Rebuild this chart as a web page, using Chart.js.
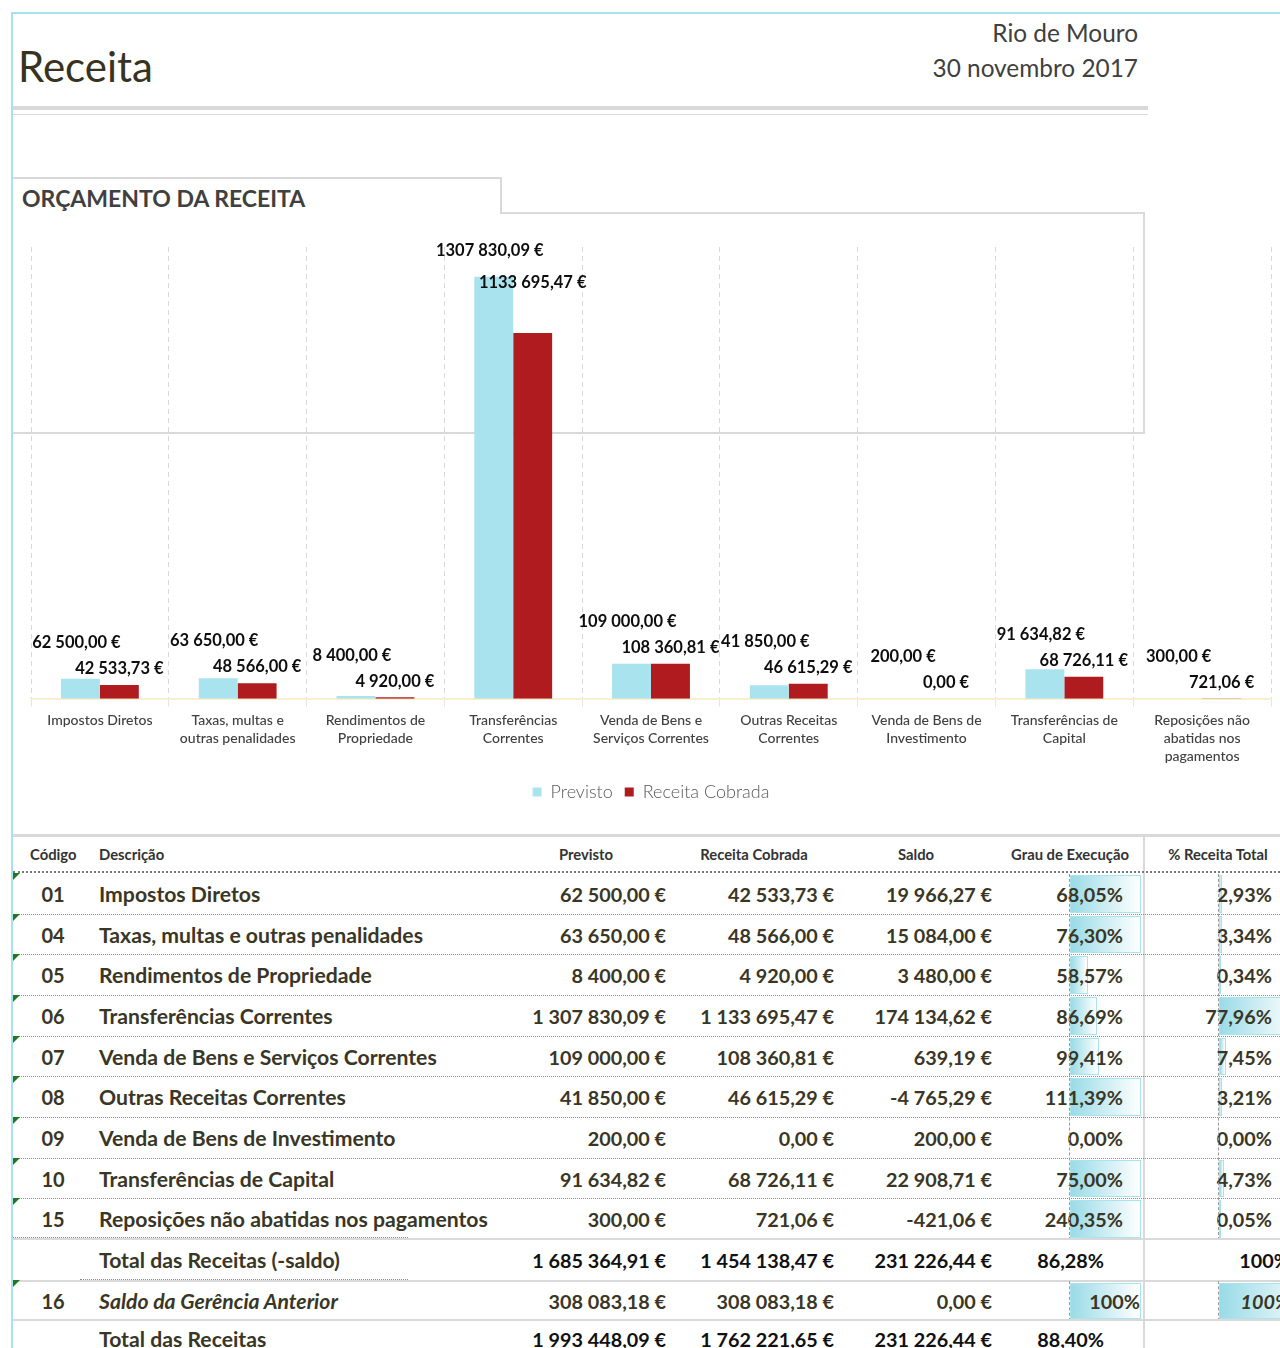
<!DOCTYPE html>
<html>
<head>
<meta charset="utf-8">
<script src="https://cdn.jsdelivr.net/npm/chart.js@4.4.1/dist/chart.umd.min.js"></script>
<style>
  html,body{margin:0;padding:0;}
  body{width:1280px;height:1348px;overflow:hidden;background:#fff;position:relative;font-family:Lato,"Open Sans",sans-serif;}
  .a{position:absolute;}
  .ln{position:absolute;background:#d9d9d9;}
  .cell{position:absolute;white-space:nowrap;font-weight:700;font-size:21.2px;color:#3a3625;line-height:40px;}
  .num{font-size:19.8px;}
  .hdr{position:absolute;white-space:nowrap;font-weight:700;font-size:14.8px;color:#333;}
  .tri{position:absolute;width:0;height:0;border-top:7px solid #1f7a1f;border-right:7px solid transparent;}
  .dbar{position:absolute;background:linear-gradient(to right,#9adbe7,#ffffff);border:1.5px solid #a9e3ed;box-sizing:border-box;}
  .dots{position:absolute;border-top:1px dotted #8c8c8c;height:0;}
  .vdots{position:absolute;border-left:1px dashed #9a9a9a;width:0;}
</style>
</head>
<body>
<div id="page"></div>
<div class="a" style="left:11px;top:230px;width:1269px;height:581px;">
  <canvas id="chart" width="1269" height="581"></canvas>
</div>
<script>
// ---------- DATA ----------
const categories = [
  ["Impostos Diretos"],
  ["Taxas, multas e", "outras penalidades"],
  ["Rendimentos de", "Propriedade"],
  ["Transferências", "Correntes"],
  ["Venda de Bens e", "Serviços Correntes"],
  ["Outras Receitas", "Correntes"],
  ["Venda de Bens de", "Investimento"],
  ["Transferências de", "Capital"],
  ["Reposições não", "abatidas nos", "pagamentos"]
];
const seriesNames = ["Previsto", "Receita Cobrada"];
const previsto = [62500.00, 63650.00, 8400.00, 1307830.09, 109000.00, 41850.00, 200.00, 91634.82, 300.00];
const receitaCobrada = [42533.73, 48566.00, 4920.00, 1133695.47, 108360.81, 46615.29, 0.00, 68726.11, 721.06];

const codigos = ["01", "04", "05", "06", "07", "08", "09", "10", "15"];
const descricoes = ["Impostos Diretos", "Taxas, multas e outras penalidades", "Rendimentos de Propriedade",
  "Transferências Correntes", "Venda de Bens e Serviços Correntes", "Outras Receitas Correntes",
  "Venda de Bens de Investimento", "Transferências de Capital", "Reposições não abatidas nos pagamentos"];
const saldo = [19966.27, 15084.00, 3480.00, 174134.62, 639.19, -4765.29, 200.00, 22908.71, -421.06];
const grauExecucao = [68.05, 76.30, 58.57, 86.69, 99.41, 111.39, 0.00, 75.00, 240.35];
const pctReceitaTotal = [2.93, 3.34, 0.34, 77.96, 7.45, 3.21, 0.00, 4.73, 0.05];
const grauDataBarFill = [1, 1, 0.25, 0.38, 0.41, 1, 0, 1, 1];   // Excel data-bar length as seen

const totalSemSaldo = {desc: "Total das Receitas (-saldo)", previsto: 1685364.91, receita: 1454138.47, saldo: 231226.44, grau: "86,28%", pct: "100%"};
const saldoGerencia = {cod: "16", desc: "Saldo da Gerência Anterior", previsto: 308083.18, receita: 308083.18, saldo: 0.00, grau: "100%", pct: "100%"};
const totalReceitas = {desc: "Total das Receitas", previsto: 1993448.09, receita: 1762221.65, saldo: 231226.44, grau: "88,40%"};

const headerTitle = "Receita";
const headerPlace = "Rio de Mouro";
const headerDate = "30 novembro 2017";
const sectionTitle = "ORÇAMENTO DA RECEITA";

// ---------- FORMAT ----------
function groupInt(n, sep){
  const s = String(n);
  let out = "";
  for (let i = 0; i < s.length; i++){
    if (i > 0 && (s.length - i) % 3 === 0) out += sep;
    out += s[i];
  }
  return out;
}
function fmtEUR(v){
  const neg = v < 0; v = Math.abs(v);
  const ip = Math.floor(Math.round(v*100)/100);
  const dp = Math.round((v - ip)*100);
  return (neg?"-":"") + groupInt(ip, " ") + "," + String(dp).padStart(2,"0") + " €";
}
function fmtChart(v){ // Excel chart labels: only the last thousands group separated
  const ip = Math.floor(v);
  const dp = Math.round((v - ip)*100);
  let s = String(ip);
  if (s.length > 3) s = s.slice(0, s.length-3) + " " + s.slice(-3);
  return s + "," + String(dp).padStart(2,"0") + " €";
}
function fmtPct(v){ return v.toFixed(2).replace(".", ",") + "%"; }

// ---------- PAGE DECORATION ----------
const page = document.getElementById("page");
function el(cls, css, text){
  const d = document.createElement("div");
  d.className = cls; d.style.cssText = css;
  if (text !== undefined) d.textContent = text;
  page.appendChild(d); return d;
}
el("a", "left:11px;top:12px;width:2px;height:1336px;background:#a6e3ee;");
el("a", "left:11px;top:12px;width:1269px;height:2px;background:#a6e3ee;");
el("a", "left:18px;top:36px;font-size:42px;font-weight:400;color:#37331f;line-height:60px;", headerTitle);
el("a", "right:142px;top:18px;font-size:24.4px;color:#404040;text-align:right;line-height:30px;", headerPlace);
el("a", "right:142px;top:53px;font-size:24.4px;color:#404040;text-align:right;line-height:30px;", headerDate);
el("ln", "left:13px;top:106px;width:1135px;height:4px;");
el("ln", "left:13px;top:114px;width:1135px;height:1px;");
// tab box
el("ln", "left:13px;top:177px;width:489px;height:2px;");
el("ln", "left:500px;top:177px;width:2px;height:37px;");
el("ln", "left:500px;top:212px;width:645px;height:2px;");
el("ln", "left:1143px;top:212px;width:2px;height:222px;");
el("ln", "left:13px;top:432px;width:1132px;height:2px;");
el("a", "left:22px;top:183px;font-size:23px;font-weight:700;color:#404040;line-height:30px;", sectionTitle);

// ---------- TABLE ----------
el("ln", "left:13px;top:834px;width:1267px;height:3px;");
el("ln", "left:1143px;top:834px;width:2px;height:514px;");
const hy = 845;
el("hdr", "left:30px;top:"+hy+"px;", "Código");
el("hdr", "left:99px;top:"+hy+"px;", "Descrição");
[["Previsto",586],["Receita Cobrada",754],["Saldo",916],["Grau de Execução",1070],["% Receita Total",1218]].forEach(([t,c])=>{
  const d = el("hdr", "top:"+hy+"px;", t);
  d.style.left = (c - 100) + "px"; d.style.width = "200px"; d.style.textAlign = "center";
});
el("a", "left:13px;top:871px;width:1267px;height:0;border-top:2px dotted #7a7a7a;");

const rowH = 40.65, row0 = 874;
const colRight = {previsto: 666, receita: 834, saldo: 992, grau: 1123, pct: 1272};
function rcell(text, right, top, extra){
  return el("cell num", "top:"+top+"px;right:"+(1280-right)+"px;"+(extra||""), text);
}
function lcell(text, left, top, extra){ return el("cell", "top:"+top+"px;left:"+left+"px;"+(extra||""), text); }

for (let i = 0; i < codigos.length; i++){
  const top = row0 + i*rowH;
  el("tri", "left:13px;top:"+(top-1)+"px;");
  if (grauDataBarFill[i] > 0) el("dbar", "left:1070px;top:"+(top+1)+"px;height:"+(rowH-3)+"px;width:"+(71*grauDataBarFill[i])+"px;");
  if (pctReceitaTotal[i] > 0) el("dbar", "left:1219px;top:"+(top+1)+"px;height:"+(rowH-3)+"px;width:"+Math.max(2, pctReceitaTotal[i]*1.0)+"px;border-width:1px;");
  lcell(codigos[i], 20, top, "width:66px;text-align:center;font-size:20px;");
  lcell(descricoes[i], 99, top);
  rcell(fmtEUR(previsto[i]), colRight.previsto, top);
  rcell(fmtEUR(receitaCobrada[i]), colRight.receita, top);
  rcell(fmtEUR(saldo[i]), colRight.saldo, top);
  rcell(fmtPct(grauExecucao[i]), colRight.grau, top);
  rcell(fmtPct(pctReceitaTotal[i]), colRight.pct, top);
  if (i < codigos.length - 1) el("dots", "left:13px;top:"+Math.round(top+rowH-1)+"px;width:1267px;");
}
el("vdots", "left:1069px;top:874px;height:"+(rowH*9)+"px;");
el("vdots", "left:1218px;top:874px;height:"+(rowH*9)+"px;");

// total (-saldo)
let t9 = row0 + 9*rowH;
el("ln", "left:13px;top:"+Math.round(t9-2)+"px;width:1267px;height:2px;");
el("dots", "left:13px;top:"+Math.round(t9-3)+"px;width:395px;");
lcell(totalSemSaldo.desc, 99, t9);
rcell(fmtEUR(totalSemSaldo.previsto), colRight.previsto, t9, "color:#111;");
rcell(fmtEUR(totalSemSaldo.receita), colRight.receita, t9, "color:#111;");
rcell(fmtEUR(totalSemSaldo.saldo), colRight.saldo, t9, "color:#111;");
rcell(totalSemSaldo.grau, 1104, t9, "color:#111;");
rcell(totalSemSaldo.pct, 1290, t9, "color:#111;");

// saldo da gerência
let t10 = row0 + 10*rowH;
el("ln", "left:13px;top:"+Math.round(t10-1)+"px;width:1267px;height:2px;");
el("dots", "left:80px;top:"+Math.round(t10-2)+"px;width:328px;");
el("tri", "left:13px;top:"+(t10-1)+"px;");
el("dbar", "left:1070px;top:"+(t10+2)+"px;height:"+(rowH-4)+"px;width:71px;");
el("dbar", "left:1219px;top:"+(t10+2)+"px;height:"+(rowH-4)+"px;width:100px;");
el("vdots", "left:1069px;top:"+t10+"px;height:"+rowH+"px;");
el("vdots", "left:1218px;top:"+t10+"px;height:"+rowH+"px;");
lcell(saldoGerencia.cod, 20, t10, "width:66px;text-align:center;font-size:20px;");
lcell(saldoGerencia.desc, 99, t10, "font-style:italic;");
rcell(fmtEUR(saldoGerencia.previsto), colRight.previsto, t10);
rcell(fmtEUR(saldoGerencia.receita), colRight.receita, t10);
rcell(fmtEUR(saldoGerencia.saldo), colRight.saldo, t10);
rcell(saldoGerencia.grau, 1140, t10);
rcell(saldoGerencia.pct, 1290, t10, "font-style:italic;");

// total das receitas
let t11 = row0 + 11*rowH - 2;
el("ln", "left:13px;top:"+Math.round(t11)+"px;width:1267px;height:2px;");
lcell(totalReceitas.desc, 99, t11);
rcell(fmtEUR(totalReceitas.previsto), colRight.previsto, t11, "color:#111;");
rcell(fmtEUR(totalReceitas.receita), colRight.receita, t11, "color:#111;");
rcell(fmtEUR(totalReceitas.saldo), colRight.saldo, t11, "color:#111;");
rcell(totalReceitas.grau, 1104, t11, "color:#111;");

// ---------- CHART ----------
const valueLabels = {
  id: "valueLabels",
  afterDatasetsDraw(chart){
    const ctx = chart.ctx;
    const m0 = chart.getDatasetMeta(0), m1 = chart.getDatasetMeta(1);
    ctx.save();
    ctx.font = "bold 16.5px Lato, sans-serif";
    ctx.fillStyle = "#0d0d0d";
    ctx.textAlign = "center";
    ctx.textBaseline = "middle";
    m0.data.forEach((b0, i) => {
      const b1 = m1.data[i];
      const prevY = Math.min(b0.y, b1.y - 16) - 26;
      const recY = Math.min(b1.y - 16, prevY + 32);
      ctx.fillText(fmtChart(previsto[i]), b0.x - 4, prevY);
      ctx.fillText(fmtChart(receitaCobrada[i]), b1.x, recY);
    });
    ctx.restore();
  }
};

new Chart(document.getElementById("chart"), {
  type: "bar",
  data: {
    labels: categories,
    datasets: [
      {label: seriesNames[0], data: previsto, backgroundColor: "#a9e3ed", categoryPercentage: 0.565, barPercentage: 1},
      {label: seriesNames[1], data: receitaCobrada, backgroundColor: "#b01b1f", categoryPercentage: 0.565, barPercentage: 1}
    ]
  },
  options: {
    responsive: false,
    animation: false,
    layout: {padding: {left: 20, right: 9, top: 17, bottom: 0}},
    plugins: {
      legend: {
        position: "bottom",
        labels: {boxWidth: 9, boxHeight: 9, padding: 12, color: "#595959",
                 font: {size: 18, family: "Lato, sans-serif", weight: "300"}}
      },
      tooltip: {enabled: false}
    },
    scales: {
      x: {
        grid: {offset: true, color: "#d9d9d9", lineWidth: 1, tickLength: 8, tickColor: "#e6e6e6"},
        border: {display: true, color: "#f8efcd", width: 2, dash: [5, 4]},
        ticks: {color: "#404040", maxRotation: 0, autoSkip: false, padding: 5,
                font: {size: 14, family: "Lato, sans-serif", weight: "500", lineHeight: 1.29}}
      },
      y: {display: false, min: 0, max: 1400000}
    }
  },
  plugins: [valueLabels]
});
</script>
</body>
</html>
